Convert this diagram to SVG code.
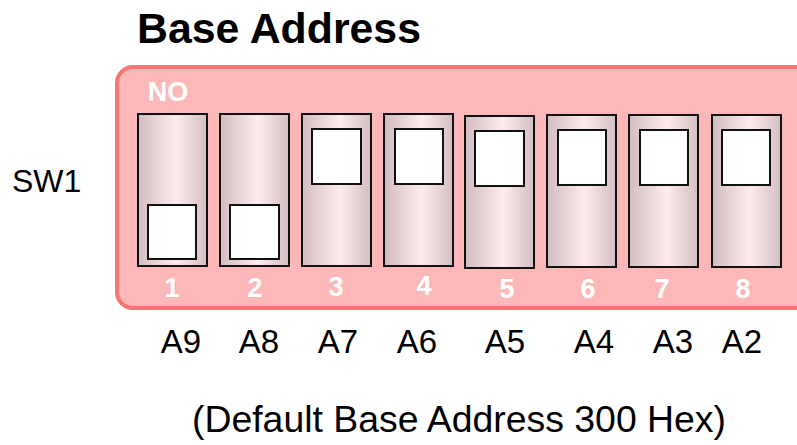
<svg xmlns="http://www.w3.org/2000/svg" width="797" height="445" viewBox="0 0 797 445">
<defs>
<linearGradient id="sw" x1="0" y1="0" x2="1" y2="0">
<stop offset="0" stop-color="#d2bcbf"/>
<stop offset="0.55" stop-color="#fdecee"/>
<stop offset="1" stop-color="#d4bec1"/>
</linearGradient>
<style>
.t{font-family:"Liberation Sans",Arial,sans-serif;fill:#000}
.w{font-family:"Liberation Sans",Arial,sans-serif;font-weight:bold;fill:#fff;font-size:27px;text-anchor:middle}
.a{font-size:33px;text-anchor:middle}
.body{fill:url(#sw);stroke:#111;stroke-width:2}
.knob{fill:#fff;stroke:#111;stroke-width:2}
</style>
</defs>
<rect width="797" height="445" fill="#fff"/>
<text class="t" x="137" y="43" font-size="42" font-weight="bold" textLength="284" lengthAdjust="spacingAndGlyphs">Base Address</text>
<text class="t" x="12" y="192" font-size="32">SW1</text>
<g id="panel">
<rect x="117" y="67" width="700" height="241" rx="16" fill="#fcb8b9" stroke="#f87576" stroke-width="4"/>
<text class="w" x="168" y="101" font-size="28">NO</text>
</g>
<g id="sw1"><rect class="body" x="138" y="114" width="69" height="152"/><rect class="knob" x="148" y="205" width="48" height="54"/><text class="w" x="172" y="297">1</text></g>
<g id="sw2"><rect class="body" x="220" y="114" width="69" height="152"/><rect class="knob" x="230" y="205" width="49" height="54"/><text class="w" x="255" y="297">2</text></g>
<g id="sw3"><rect class="body" x="302" y="114" width="69" height="152"/><rect class="knob" x="312" y="129" width="49" height="55"/><text class="w" x="336" y="296">3</text></g>
<g id="sw4"><rect class="body" x="384" y="114" width="69" height="152"/><rect class="knob" x="395" y="129" width="48" height="55"/><text class="w" x="424" y="295">4</text></g>
<g id="sw5"><rect class="body" x="465" y="116" width="69" height="152"/><rect class="knob" x="475" y="131" width="49" height="55"/><text class="w" x="507" y="298">5</text></g>
<g id="sw6"><rect class="body" x="547" y="115" width="69" height="152"/><rect class="knob" x="558" y="130" width="48" height="55"/><text class="w" x="588" y="298">6</text></g>
<g id="sw7"><rect class="body" x="629" y="115" width="69" height="152"/><rect class="knob" x="640" y="130" width="48" height="55"/><text class="w" x="662" y="298">7</text></g>
<g id="sw8"><rect class="body" x="712" y="115" width="69" height="152"/><rect class="knob" x="722" y="130" width="48" height="55"/><text class="w" x="743" y="298">8</text></g>
<g id="labels">
<text class="t a" x="181" y="353">A9</text>
<text class="t a" x="259" y="353">A8</text>
<text class="t a" x="338" y="353">A7</text>
<text class="t a" x="417" y="353">A6</text>
<text class="t a" x="505" y="353">A5</text>
<text class="t a" x="594" y="353">A4</text>
<text class="t a" x="673" y="353">A3</text>
<text class="t a" x="742" y="353">A2</text>
</g>
<text class="t" x="192" y="432" font-size="37" textLength="534" lengthAdjust="spacingAndGlyphs">(Default Base Address 300 Hex)</text>
</svg>
